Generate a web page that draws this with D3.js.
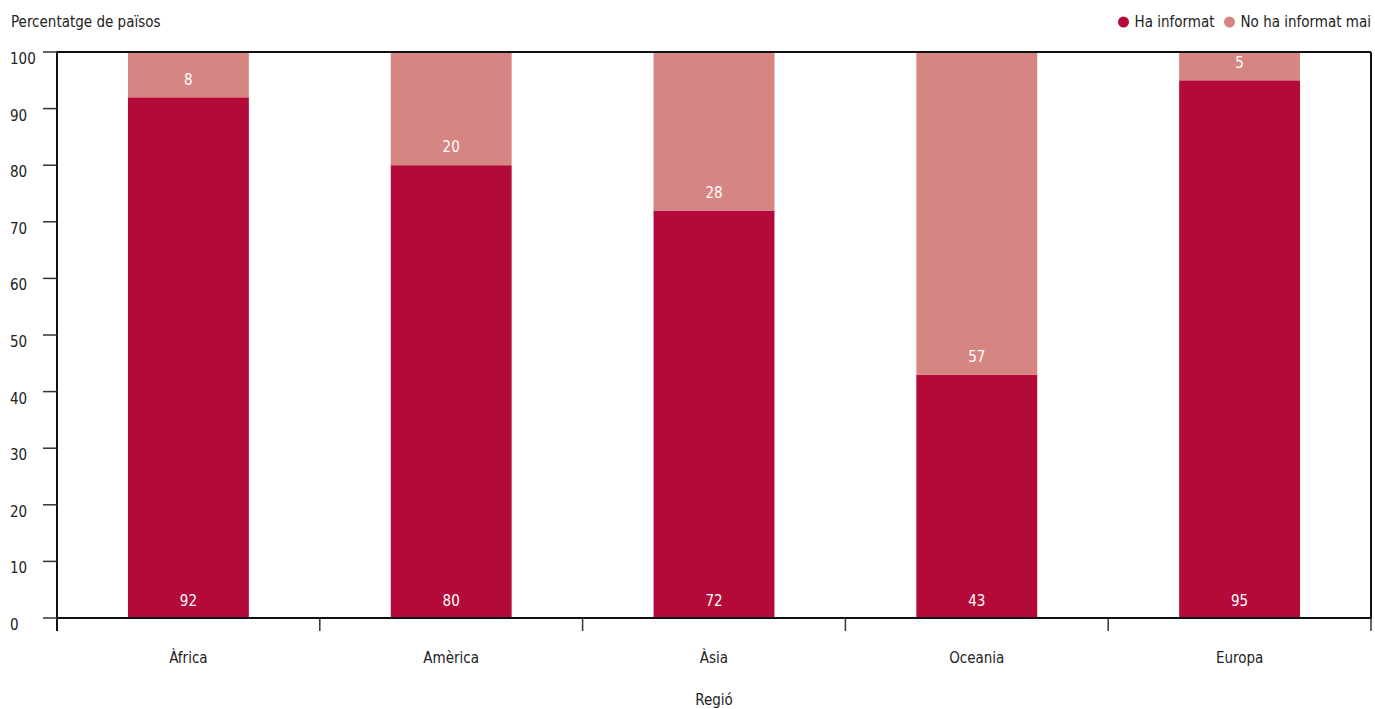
<!DOCTYPE html>
<html><head><meta charset="utf-8">
<script src="https://cdn.jsdelivr.net/npm/d3@7"></script>
<style>
body{margin:0;background:#fff;}
text{font-family:"Liberation Sans Narrow","DejaVu Sans Condensed",sans-serif;}
</style></head><body>
<svg id="c" width="1375" height="709"></svg>
<script>
const regions = ["Àfrica","Amèrica","Àsia","Oceania","Europa"];
const informed = [92,80,72,43,95];
const neverInformed = [8,20,28,57,5];
const seriesNames = ["Ha informat","No ha informat mai"];
const colors = ["#b30a3a","#d58682"];
const yTicks = [0,10,20,30,40,50,60,70,80,90,100];

const svg = d3.select("#c");
const m = {l:57, r:1371, t:52, b:618};
const x = d3.scaleBand().domain(regions).range([m.l, m.r]).paddingInner(0.54).paddingOuter(0.27);
const y = d3.scaleLinear().domain([0,100]).range([m.b, m.t]);
const fs = 15, txt = "#222";

// title
svg.append("text").attr("x",11).attr("y",27).attr("font-size",fs).attr("fill",txt).text("Percentatge de països");

// bars
const data = regions.map((r,i)=>({r, a:informed[i], b:neverInformed[i]}));
const g = svg.append("g");
data.forEach(d=>{
  g.append("rect").attr("x",x(d.r)).attr("width",x.bandwidth())
    .attr("y",y(d.a)).attr("height",y(0)-y(d.a)).attr("fill",colors[0]);
  g.append("rect").attr("x",x(d.r)).attr("width",x.bandwidth())
    .attr("y",y(d.a+d.b)).attr("height",y(d.a)-y(d.a+d.b)).attr("fill",colors[1]);
  g.append("text").attr("x",x(d.r)+x.bandwidth()/2).attr("y",y(0)-17).attr("dy","0.35em")
    .attr("text-anchor","middle").attr("font-size",fs).attr("fill","#fff").text(d.a);
  g.append("text").attr("x",x(d.r)+x.bandwidth()/2).attr("y",y(d.a)-18).attr("dy","0.35em")
    .attr("text-anchor","middle").attr("font-size",fs).attr("fill","#fff").text(d.b);
});

// frame top/right
svg.append("line").attr("x1",m.l).attr("x2",m.r).attr("y1",m.t).attr("y2",m.t).attr("stroke","#111").attr("stroke-width",2);
svg.append("line").attr("x1",m.r).attr("x2",m.r).attr("y1",m.t).attr("y2",m.b).attr("stroke","#111").attr("stroke-width",2);

// y axis
const ya = svg.append("g");
ya.append("line").attr("x1",m.l).attr("x2",m.l).attr("y1",m.t-1).attr("y2",m.b+13).attr("stroke","#111").attr("stroke-width",2);
yTicks.forEach(t=>{
  ya.append("line").attr("x1",m.l-14).attr("x2",m.l).attr("y1",y(t)).attr("y2",y(t)).attr("stroke","#333").attr("stroke-width",1.5);
  ya.append("text").attr("x",10).attr("y",y(t)+12).attr("font-size",fs).attr("fill",txt).text(t);
});

// x axis
svg.append("line").attr("x1",m.l).attr("x2",m.r+1).attr("y1",m.b).attr("y2",m.b).attr("stroke","#111").attr("stroke-width",2);
const step = x.step();
const bounds = regions.map((r,i)=>x(r)-x.paddingInner()*step/2);
bounds.push(m.r);
bounds.forEach((bx,i)=>{
  if(i===0) return;
  svg.append("line").attr("x1",bx).attr("x2",bx).attr("y1",m.b).attr("y2",m.b+13).attr("stroke","#333").attr("stroke-width",1.5);
});
regions.forEach(r=>{
  svg.append("text").attr("x",x(r)+x.bandwidth()/2).attr("y",663).attr("text-anchor","middle").attr("font-size",fs).attr("fill",txt).text(r);
});
svg.append("text").attr("x",(m.l+m.r)/2).attr("y",705).attr("text-anchor","middle").attr("font-size",fs).attr("fill",txt).text("Regió");

// legend, laid out from the right edge
const lg = svg.append("g");
let cursor = 1371;
for (let i = seriesNames.length-1; i>=0; i--){
  const t = lg.append("text").attr("x",cursor).attr("y",27).attr("text-anchor","end")
    .attr("font-size",fs).attr("fill",txt).text(seriesNames[i]);
  const w = t.node().getComputedTextLength();
  const cx = cursor - w - 11;
  lg.append("circle").attr("cx",cx).attr("cy",22).attr("r",5.5).attr("fill",colors[i]);
  cursor = cx - 15;
}
</script></body></html>
